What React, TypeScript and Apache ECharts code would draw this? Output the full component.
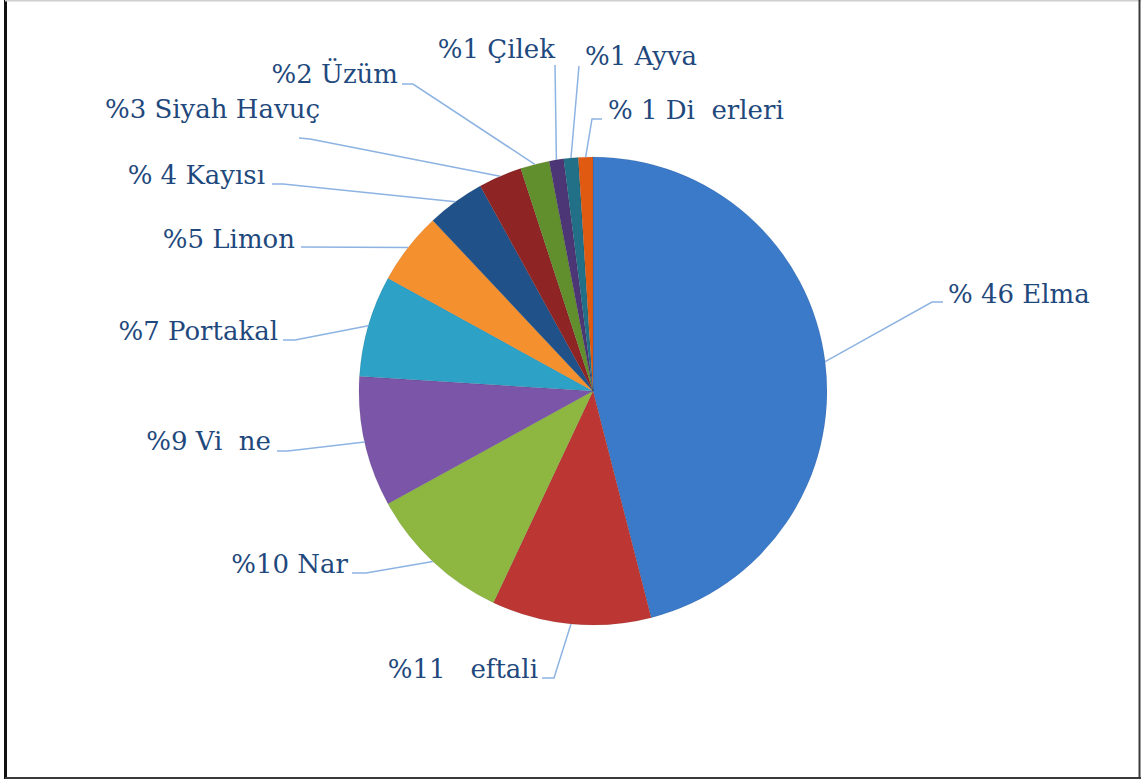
import React, { useEffect, useRef } from 'react';
import * as echarts from 'echarts';

// ---- data ----
const categories = ['Elma', 'Şeftali', 'Nar', 'Vişne', 'Portakal', 'Limon', 'Kayısı', 'Siyah Havuç', 'Üzüm', 'Çilek', 'Ayva', 'Diğerleri'];
const values = [46, 11, 10, 9, 7, 5, 4, 3, 2, 1, 1, 1];
// label texts as they appear in the picture (missing glyphs shown as gaps)
const labelPrefix = ['% ', '%', '%', '%', '%', '%', '% ', '%', '%', '%', '%', '% '];
const labelNames = ['Elma', '  eftali', 'Nar', 'Vi  ne', 'Portakal', 'Limon', 'Kayısı', 'Siyah Havuç', 'Üzüm', 'Çilek', 'Ayva', 'Di  erleri'];

// ---- styles / layout ----
const colors = ['#3B7AC9', '#BC3733', '#8DB741', '#7A55A8', '#2EA2C6', '#F5902F', '#215189', '#8E2424', '#628F2E', '#4C3675', '#217087', '#E05A12'];
const CENTER: [number, number] = [593, 391];
const RADIUS = 234;
const LABEL_FONT = '26px "DejaVu Serif"';
const LABEL_COLOR = '#1F497D';
const LINE_COLOR = '#8DB3E2';
// label anchor (x, text baseline y, align) and leader-line points after the pie edge
const labelPlace: { x: number; b: number; align: 'left' | 'right'; line: number[][] }[] = [
  { x: 948, b: 303, align: 'left', line: [[932, 302], [943, 302]] },
  { x: 538, b: 678, align: 'right', line: [[554, 678], [542, 678]] },
  { x: 348, b: 573, align: 'right', line: [[366, 573], [352, 573]] },
  { x: 271, b: 450, align: 'right', line: [[288, 451], [277, 451]] },
  { x: 278, b: 340, align: 'right', line: [[295, 340], [283, 340]] },
  { x: 295, b: 248, align: 'right', line: [[301, 247]] },
  { x: 265, b: 184, align: 'right', line: [[283, 184], [272, 184]] },
  { x: 320, b: 118, align: 'right', line: [[310, 139], [299, 138]] },
  { x: 398, b: 83, align: 'right', line: [[413, 84], [402, 84]] },
  { x: 555, b: 58, align: 'right', line: [[555, 65]] },
  { x: 585, b: 65, align: 'left', line: [[579, 66]] },
  { x: 608, b: 119, align: 'left', line: [[592, 119], [602, 119]] },
];

// point on the pie's rim at the middle angle of slice i (start at 12 o'clock, clockwise)
function edgePoint(i: number): number[] {
  const total = values.reduce((a, b) => a + b, 0);
  let cum = 0;
  for (let k = 0; k < i; k++) cum += values[k];
  const t = ((cum + values[i] / 2) / total) * Math.PI * 2;
  return [CENTER[0] + RADIUS * Math.sin(t), CENTER[1] - RADIUS * Math.cos(t)];
}

export default function App() {
  const ref = useRef<HTMLDivElement>(null);
  useEffect(() => {
    if (!ref.current) return;
    const chart = echarts.init(ref.current, undefined, { renderer: 'svg' });

    const leaderLines = categories.map((_, i) => ({
      type: 'polyline',
      z: 10,
      shape: { points: [edgePoint(i), ...labelPlace[i].line] },
      style: { stroke: LINE_COLOR, lineWidth: 1.5, fill: null },
    }));
    const labelTexts = categories.map((_, i) => ({
      type: 'text',
      z: 10,
      x: labelPlace[i].x,
      y: labelPlace[i].b - 9,
      style: {
        text: `${labelPrefix[i]}${values[i]} ${labelNames[i]}`,
        font: LABEL_FONT,
        fill: LABEL_COLOR,
        align: labelPlace[i].align,
        verticalAlign: 'middle',
      },
    }));

    chart.setOption({
      animation: false,
      backgroundColor: '#ffffff',
      graphic: [
        { type: 'line', shape: { x1: 5.5, y1: 0, x2: 5.5, y2: 779 }, style: { stroke: '#111', lineWidth: 3 } },
        { type: 'line', shape: { x1: 5, y1: 0.5, x2: 1141, y2: 0.5 }, style: { stroke: '#cfcfcf', lineWidth: 2 } },
        { type: 'line', shape: { x1: 1139.5, y1: 0, x2: 1139.5, y2: 779 }, style: { stroke: '#3a3a3a', lineWidth: 2 } },
        { type: 'line', shape: { x1: 5, y1: 778, x2: 1141, y2: 778 }, style: { stroke: '#3a3a3a', lineWidth: 2 } },
        ...leaderLines,
        ...labelTexts,
      ],
      series: [
        {
          type: 'pie',
          center: CENTER,
          radius: RADIUS,
          startAngle: 90,
          clockwise: true,
          data: categories.map((name, i) => ({ name, value: values[i], itemStyle: { color: colors[i] } })),
          itemStyle: { borderColor: 'rgba(0,0,0,0.15)', borderWidth: 0.5 },
          label: { show: false },
          labelLine: { show: false },
        },
      ],
    });
    return () => chart.dispose();
  }, []);
  return <div ref={ref} style={{ position: 'absolute', left: 0, top: 0, width: 1144, height: 782 }} />;
}
